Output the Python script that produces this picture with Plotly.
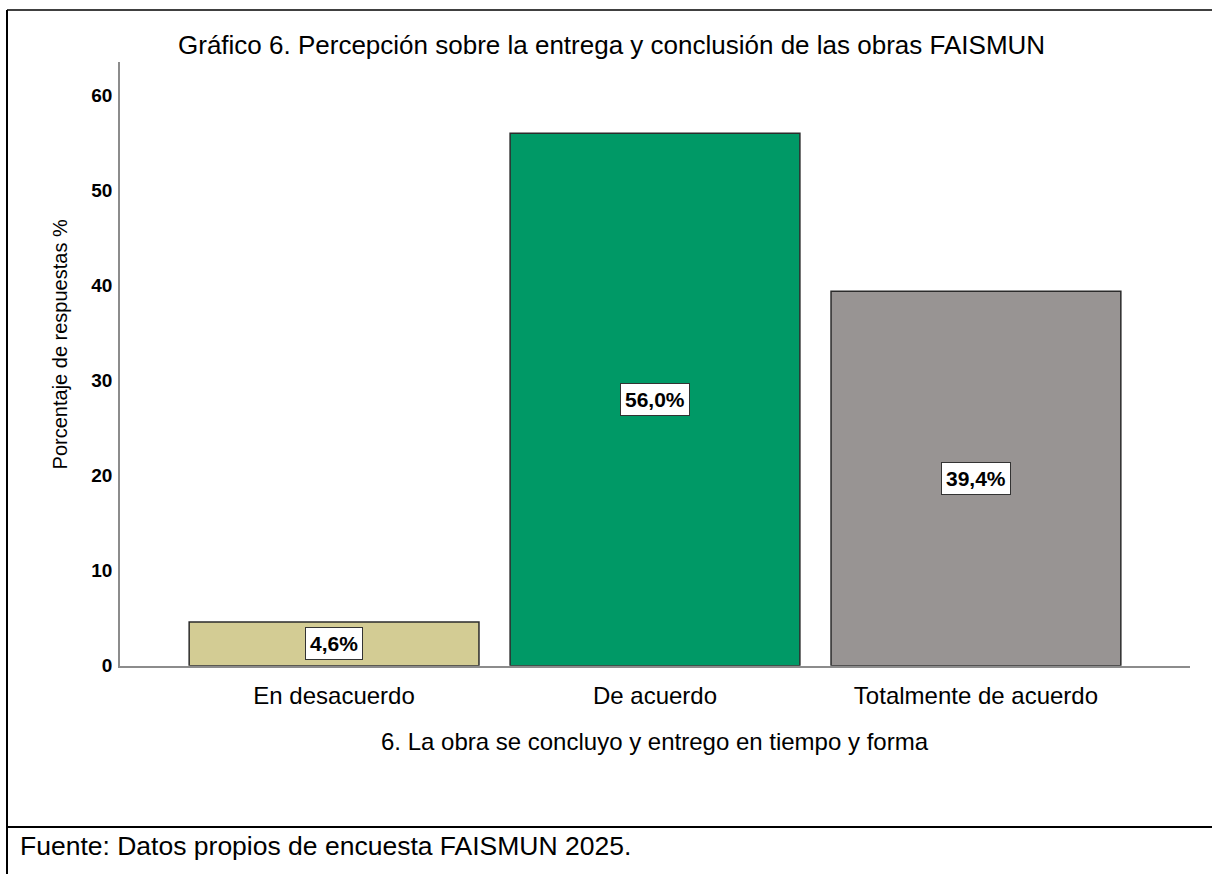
import plotly.graph_objects as go

categories = ["En desacuerdo", "De acuerdo", "Totalmente de acuerdo"]
values = [4.6, 56.0, 39.4]
value_labels = ["4,6%", "56,0%", "39,4%"]
y_ticks = [0, 10, 20, 30, 40, 50, 60]
bar_colors = ["#D3CC94", "#009966", "#989493"]

W, H = 1212, 874
H_EFF = 862  # observed rendered height of the page
FONT = "Liberation Sans, Arial, sans-serif"
NARROW = "Liberation Sans Narrow, Arial Narrow, Liberation Sans, Arial, sans-serif"

def px(x):
    return x / W

def py(y):
    return 1 - y / H_EFF

fig = go.Figure()
fig.add_trace(go.Bar(
    x=categories, y=values, width=0.903,
    marker=dict(color=bar_colors, line=dict(color="#2b2b2b", width=1.5)),
    hoverinfo="skip", showlegend=False,
))

for c, v, t in zip(categories, values, value_labels):
    fig.add_annotation(
        x=c, y=v / 2, xref="x", yref="y", text="<b>%s</b>" % t, showarrow=False,
        font=dict(family=FONT, size=21, color="black"),
        bgcolor="white", bordercolor="#333333", borderwidth=1, borderpad=4,
    )

fig.update_layout(
    width=W, height=H,
    margin=dict(l=0, r=0, t=0, b=0),
    paper_bgcolor="white", plot_bgcolor="white",
    xaxis=dict(
        type="category", domain=[px(120), px(1190)], range=[-0.667, 2.667],
        showline=True, linecolor="#8c8c8c", linewidth=1.5, showgrid=False,
        ticks="", ticklabelstandoff=8,
        tickfont=dict(family=FONT, size=24, color="black"), zeroline=False,
    ),
    yaxis=dict(
        domain=[py(665), py(62)], range=[0, 63.5],
        tickvals=y_ticks, ticktext=["<b>%d</b>" % v for v in y_ticks],
        showline=True, linecolor="#8c8c8c", linewidth=1.5, showgrid=False,
        ticks="", ticklabelstandoff=2, zeroline=False,
        tickfont=dict(family=NARROW, size=19, color="black"),
    ),
)

# Titles
fig.add_annotation(x=px(611), y=py(45), xref="paper", yref="paper",
                   text="Gráfico 6. Percepción sobre la entrega y conclusión de las obras FAISMUN",
                   showarrow=False, font=dict(family=FONT, size=26, color="black"),
                   xanchor="center", yanchor="middle")
fig.add_annotation(x=px(60), y=py(344), xref="paper", yref="paper",
                   text="Porcentaje de respuestas %", textangle=-90,
                   showarrow=False, font=dict(family=NARROW, size=20, color="black"),
                   xanchor="center", yanchor="middle")
fig.add_annotation(x=px(655), y=py(741), xref="paper", yref="paper",
                   text="6. La obra se concluyo y entrego en tiempo y forma",
                   showarrow=False, font=dict(family=FONT, size=24, color="black"),
                   xanchor="center", yanchor="middle")
fig.add_annotation(x=px(18), y=py(845), xref="paper", yref="paper",
                   text="Fuente: Datos propios de encuesta FAISMUN 2025.",
                   showarrow=False, font=dict(family=FONT, size=26.5, color="black"),
                   xanchor="left", yanchor="middle")

# Frame lines
fig.add_shape(type="line", xref="paper", yref="paper", x0=px(7), x1=px(7), y0=py(10), y1=py(880),
              line=dict(color="black", width=2))
fig.add_shape(type="line", xref="paper", yref="paper", x0=px(7), x1=1, y0=py(10), y1=py(10),
              line=dict(color="black", width=1.5))
fig.add_shape(type="line", xref="paper", yref="paper", x0=px(7), x1=1, y0=py(826), y1=py(826),
              line=dict(color="black", width=2))

fig.write_html(
    "out.html",
    config={"displayModeBar": False},
    post_script="document.body.style.margin='0';document.body.style.overflow='hidden';",
)
